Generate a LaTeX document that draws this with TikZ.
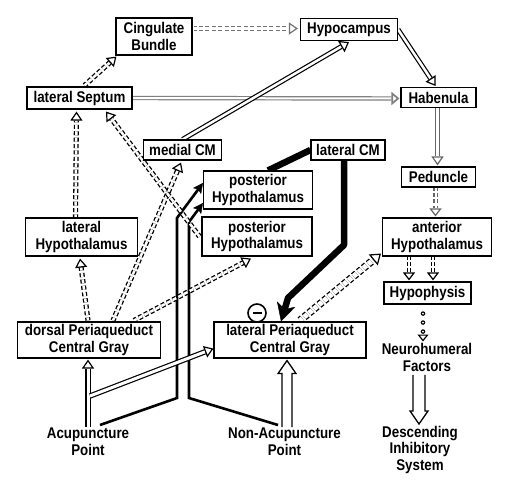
\documentclass[tikz,border=0pt]{standalone}
\usepackage{fontspec}
\setmainfont{Liberation Sans}[FakeStretch=0.86]
\usetikzlibrary{arrows.meta,calc,backgrounds}
\newcommand\dgfont{\fontsize{15.5}{16.5}\selectfont\bfseries}
\tikzset{
  box/.style={draw, fill=white, line width=1.1pt, inner sep=1pt, align=center, font=\dgfont},
  txt/.style={inner sep=0pt, align=center, font=\dgfont, anchor=north},
  invis/.style={dash pattern=on 0pt off 3000pt, dash phase=1pt},
  hs/.style n args={4}{draw=#4, line width=1.2pt, invis, -{Triangle[open, width=#2, length=#3]},
     preaction={draw=#4, -, solid, line width=1.2pt, double=white, double distance=#1, shorten >=#3}},
  hd/.style n args={4}{draw=#4, line width=1.2pt, invis, -{Triangle[open, width=#2, length=#3]},
     preaction={draw=#4, -, line width=1.3pt, dash pattern=on 4pt off 2.4pt, double=white, double distance=#1, shorten >=#3}},
  hr/.style n args={3}{draw=black, line width=1.2pt, invis, -{Triangle[open, width=#1, length=#2]},
     preaction={draw=black, -, line cap=round, dash pattern=on 0pt off #3, double=white, double distance=2pt, line width=1.3pt, shorten >=#2}},
  bigarrow/.style={draw=black, line width=1.3pt, line join=miter},
  blk/.style={draw=black, line width=2.6pt, line join=miter, -{Stealth[length=10pt, width=10pt, inset=2pt, line width=0.4pt]}},
  fat/.style={draw=black, line width=6.5pt, line join=round},
}
\begin{document}
\begin{tikzpicture}[x=1pt,y=-1pt]
\useasboundingbox (0,0) rectangle (510,479);
\node[box, minimum width=76pt, minimum height=37pt] (cing) at (154,36.5) {Cingulate\\Bundle};
\node[box, minimum width=97pt, minimum height=22pt] (hypo) at (349,29.5) {Hypocampus};
\node[box, minimum width=105pt, minimum height=22pt] (lsep) at (79.5,98) {lateral Septum};
\node[box, minimum width=75pt, minimum height=20pt] (hab) at (438.5,97.5) {Habenula};
\node[box, minimum width=78pt, minimum height=20pt] (mcm) at (182.5,150) {medial CM};
\node[box, minimum width=74pt, minimum height=20pt] (lcm) at (348,150) {lateral CM};
\node[box, minimum width=109pt, minimum height=38pt] (ph1) at (258,190) {posterior\\Hypothalamus};
\node[box, minimum width=110pt, minimum height=39pt] (ph2) at (257,236.5) {posterior\\Hypothalamus};
\node[box, minimum width=112pt, minimum height=38pt] (lhyp) at (81.5,237) {lateral\\Hypothalamus};
\node[box, minimum width=74pt, minimum height=20pt] (ped) at (438.5,177) {Peduncle};
\node[box, minimum width=109pt, minimum height=38pt] (ahyp) at (437,237) {anterior\\Hypothalamus};
\node[box, minimum width=87pt, minimum height=22pt] (hypoph) at (427.5,293) {Hypophysis};
\node[box, minimum width=143pt, minimum height=36pt] (dpag) at (89,340) {dorsal Periaqueduct\\Central Gray};
\node[box, minimum width=152pt, minimum height=36pt] (lpag) at (290,340) {lateral Periaqueduct\\Central Gray};
\node[txt] (neuro) at (427,343.5) {Neurohumeral\\Factors};
\node[txt] (desc) at (420,426) {Descending\\Inhibitory\\System};
\node[txt] (acu) at (88,428) {Acupuncture\\Point};
\node[txt] (nonacu) at (284.5,428) {Non-Acupuncture\\Point};
\node[circle, draw, line width=1.6pt, minimum size=18pt, inner sep=0pt, fill=white] (minus) at (257,313) {};
\draw[line width=2.8pt] ($(minus.center)+(-4.5,0)$) -- ($(minus.center)+(4.5,0)$);
\coordinate (nf) at ($(neuro.south)+(-8,3)$);
\coordinate (di) at ($(desc.north)+(-1,-2)$);
\coordinate (na1) at ($(nonacu.north)+(2.5,-1)$);
\coordinate (na2) at ($(lpag.south)+(-3,2)$);
\begin{scope}[on background layer]
\fill[white] (0,0) rectangle (510,479);
% black pathways
\draw[blk] ($(acu.north)+(12,-3)$) -- (177,398) -- (177,218) -- ($(ph1.west)+(0,-7)$);
\draw[blk] ($(nonacu.north)+(-6.5,-3)$) -- (189,398) -- (189,222) -- ($(ph1.west)+(0,13)$);
\draw[fat] (lcm.west) -- ($(ph1.north)+(10,0)$);
\draw[fat, -{Stealth[length=18pt, width=19pt, inset=5pt, line width=0.4pt]}] ($(lcm.south)+(-4,0)$) -- (344,245) -- (288,298) -- ($(lpag.north)+(-9,0)$);
% hollow arrows
\draw[hd={2.5pt}{12pt}{9pt}{black!55}] ($(cing.east)+(1,-8)$) -- ($(hypo.west)+(-2,-1)$);
\draw[hd={2.5pt}{12pt}{9pt}{black}] ($(lsep.north)+(5,-1)$) -- ($(cing.south west)+(1,1)$);
\draw[hs={2pt}{13pt}{8pt}{black!50}, line width=1.7pt] (lsep.east) -- ($(hab.west)+(-1,1)$);
\draw[hs={2.5pt}{13pt}{9pt}{black}] (mcm.north) -- ($(hypo.south)+(0,1)$);
\draw[hs={2.5pt}{12pt}{9pt}{black}] (hypo.east) -- ($(hab.north)+(-3,-1)$);
\draw[hs={2.5pt}{12pt}{9pt}{black!60}] ($(hab.south)+(-1,0)$) -- ($(ped.north)+(-1,-1)$);
\draw[hd={2pt}{12pt}{8pt}{black!60}] ($(ped.south)+(-3,0)$) -- ($(ahyp.north)+(-1.5,-1)$);
\draw[hd={2pt}{12pt}{8pt}{black}] ($(ahyp.south)+(-28,0)$) -- ($(hypoph.north)+(-18.5,-1)$);
\draw[hd={2pt}{12pt}{8pt}{black}] ($(ahyp.south)+(-4,0)$) -- ($(hypoph.north)+(5.5,-1)$);
\draw[hr={11pt}{7pt}{9pt}] ($(hypoph.south)+(-4.5,1)$) -- ($(neuro.north)+(-4,-2)$);
\draw[bigarrow] ($(nf)+(-6,0)$) -- ($(di)+(-6,-13)$) -- ($(di)+(-9,-13)$) -- (di) -- ($(di)+(9,-13)$) -- ($(di)+(6,-13)$) -- ($(nf)+(6,0)$);
\draw[hd={2.5pt}{12pt}{9pt}{black}] ($(lhyp.north)+(-6,0)$) -- ($(lsep.south)+(-3,2)$);
\draw[hd={2.5pt}{12pt}{9pt}{black}] ($(dpag.north)+(-1,-1)$) -- ($(lhyp.south)+(-1.5,2)$);
\draw[hd={2.5pt}{12pt}{9pt}{black}] ($(dpag.north)+(24,-1)$) -- ($(mcm.south)+(-1.5,2)$);
\draw[hd={2.5pt}{12pt}{9pt}{black}] ($(dpag.north)+(45,-1)$) -- ($(ph2.south)+(-6,2)$);
\draw[hd={2.5pt}{12pt}{9pt}{black}] ($(ph2.west)+(-2,0)$) -- ($(lsep.south)+(26.5,2)$);
\draw[hd={5pt}{14pt}{10pt}{black}] ($(lpag.north)+(10,-1)$) -- ($(ahyp.south west)+(-1,-3)$);
\draw[hs={3pt}{12pt}{9pt}{black}] ($(acu.north)+(0,-1)$) -- ($(dpag.south)+(-1,1)$);
\draw[hs={3pt}{12pt}{9pt}{black}] ($(acu.north)+(2,-32)$) -- ($(lpag.south west)+(0,-10)$);
\draw[bigarrow] ($(na1)+(-5,0)$) -- ($(na2)+(-5,13)$) -- ($(na2)+(-9,13)$) -- (na2) -- ($(na2)+(9,13)$) -- ($(na2)+(5,13)$) -- ($(na1)+(5,0)$);
\end{scope}
\end{tikzpicture}
\end{document}
